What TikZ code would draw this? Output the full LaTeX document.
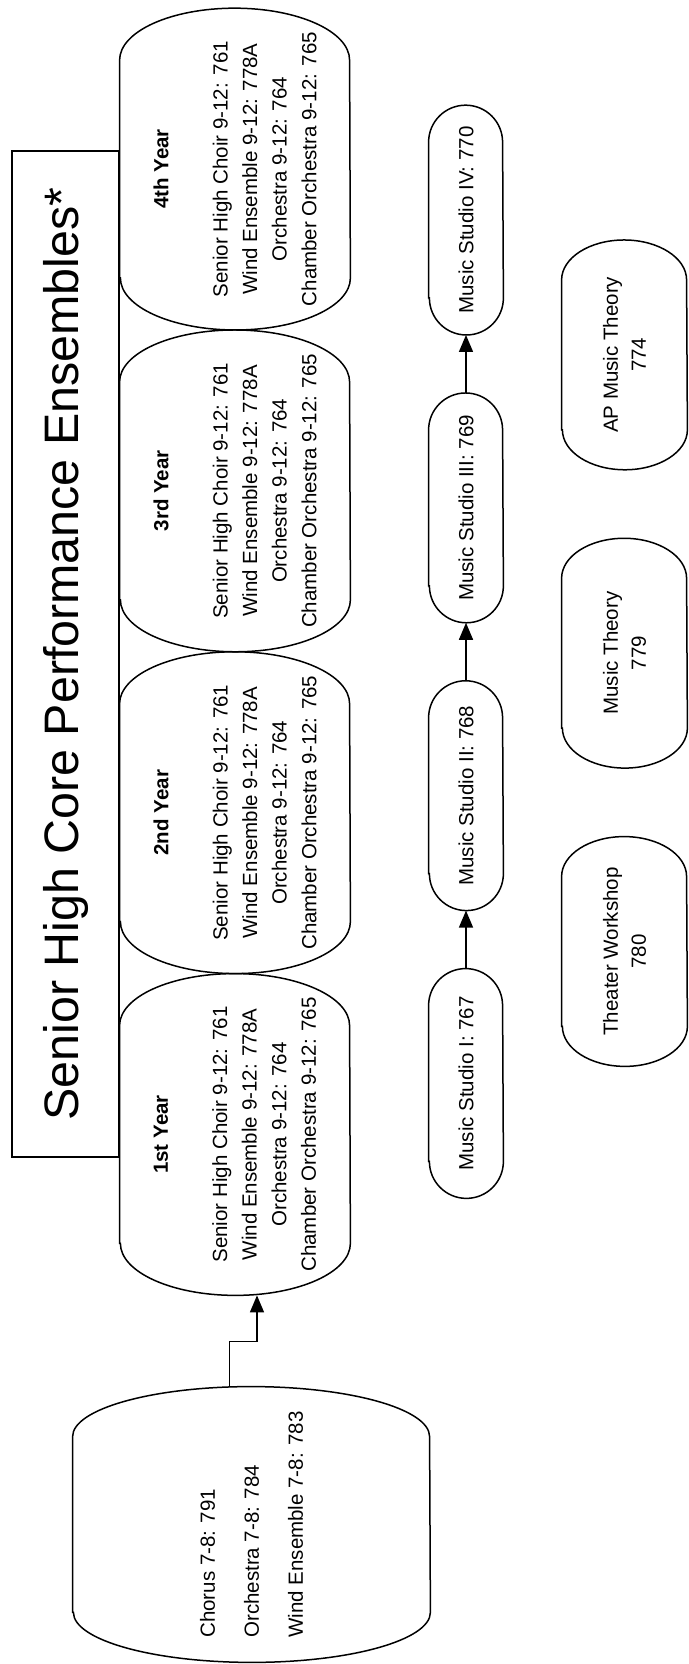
\documentclass[tikz,border=0pt]{standalone}
\usepackage{fontspec}
\setmainfont{Liberation Sans}
\usetikzlibrary{positioning, arrows.meta}
\tikzset{year/.style={minimum width=160.5pt, minimum height=115pt, inner sep=0pt, align=center, font=\fontsize{10.25pt}{14.8pt}\selectfont},
studio/.style={minimum width=114.5pt, minimum height=37pt, inner sep=0pt, font=\fontsize{10.25pt}{14pt}\selectfont},
course/.style={minimum width=114.5pt, minimum height=62.5pt, inner sep=0pt, align=center, font=\fontsize{10.25pt}{14pt}\selectfont},
outline/.style={draw, line width=0.75pt},
line/.style={-{Triangle[length=8.5pt, width=7pt]}, line width=0.75pt}
}
% outline with elliptical ends: node, end depth, half height
\newcommand\pillshape[3]{\draw[outline] ([xshift=#2]#1.north west) -- ([xshift=-#2]#1.north east)
  arc[start angle=90, end angle=-90, x radius=#2, y radius=#3] -- ([xshift=#2]#1.south west)
  arc[start angle=270, end angle=90, x radius=#2, y radius=#3] -- cycle;}

\begin{document}
\begin{tikzpicture}[x=0.5pt, y=0.5pt, rotate=90, transform shape]
\useasboundingbox (0,0) rectangle (1664,689);

\node[outline, minimum width=503pt, minimum height=53.5pt, font=\fontsize{24.2pt}{29pt}\selectfont] (title) at (1010,623.5) {Senior High Core Performance Ensembles*};

\node[year] (year1) at (529.5,454) {\textbf{1st Year}\\[14.8pt] Senior High Choir 9-12: 761\\Wind Ensemble 9-12: 778A\\Orchestra 9-12: 764\\Chamber Orchestra 9-12: 765};
\node[year, right=0pt of year1] (year2) {\textbf{2nd Year}\\[14.8pt] Senior High Choir 9-12: 761\\Wind Ensemble 9-12: 778A\\Orchestra 9-12: 764\\Chamber Orchestra 9-12: 765};
\node[year, right=0pt of year2] (year3) {\textbf{3rd Year}\\[14.8pt] Senior High Choir 9-12: 761\\Wind Ensemble 9-12: 778A\\Orchestra 9-12: 764\\Chamber Orchestra 9-12: 765};
\node[year, right=0pt of year3] (year4) {\textbf{4th Year}\\[14.8pt] Senior High Choir 9-12: 761\\Wind Ensemble 9-12: 778A\\Orchestra 9-12: 764\\Chamber Orchestra 9-12: 765};

\node[minimum width=137.5pt, minimum height=178.5pt, inner sep=0pt, align=left, font=\fontsize{10.25pt}{22pt}\selectfont] (mid) at (139.5,437.5) {Chorus 7-8: 791\\Orchestra 7-8: 784\\Wind Ensemble 7-8: 783};

\node[studio] (studio1) at (580.5,223) {Music Studio I: 767};
\node[studio, right=29pt of studio1] (studio2) {Music Studio II: 768};
\node[studio, right=29pt of studio2] (studio3) {Music Studio III: 769};
\node[studio, right=29pt of studio3] (studio4) {Music Studio IV: 770};

\node[course] (theater) at (712.5,64.5) {Theater Workshop\\780};
\node[course, right=34.25pt of theater] (theory) {Music Theory\\779};
\node[course, right=34.25pt of theory] (aptheory) {AP Music Theory\\774};

\foreach \n in {year1,year2,year3,year4} {\pillshape{\n}{26pt}{57.5pt}}
\foreach \n in {studio1,studio2,studio3,studio4} {\pillshape{\n}{18.5pt}{18.5pt}}
\foreach \n in {theater,theory,aptheory} {\pillshape{\n}{20pt}{31.25pt}}
\pillshape{mid}{25pt}{89.25pt}

\draw[line] ([yshift=11pt]mid.east) -- ++(45,0) |- ([yshift=-11pt]year1.west);
\draw[line] (studio1.east) -- (studio2.west);
\draw[line] (studio2.east) -- (studio3.west);
\draw[line] (studio3.east) -- (studio4.west);

\end{tikzpicture}
\end{document}
